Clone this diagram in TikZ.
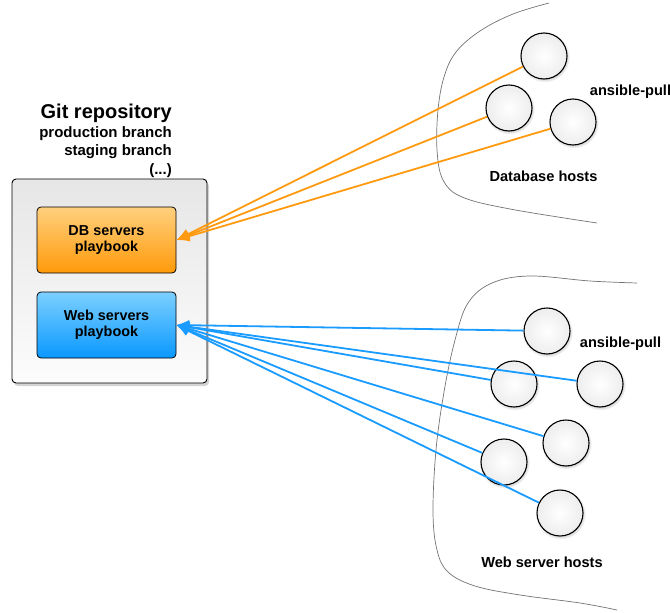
\documentclass[tikz,border=0pt]{standalone}
\usepackage{fontspec}
\setmainfont{Liberation Sans}
\usetikzlibrary{shadows,arrows.meta}
\definecolor{dbtop}{HTML}{FFD07E}
\definecolor{dbbot}{HTML}{FF9A0A}
\definecolor{webtop}{HTML}{7CD0FF}
\definecolor{webbot}{HTML}{0A98FF}
\definecolor{dbline}{HTML}{FF9A10}
\definecolor{webline}{HTML}{1A9BFF}
\definecolor{repotop}{HTML}{E6E6E6}
\definecolor{repobot}{HTML}{FCFCFC}
\begin{document}
\begin{tikzpicture}[x=1pt,y=-1pt,
  lbl/.style={font=\fontsize{14.6pt}{16pt}\selectfont\bfseries, inner sep=0pt},
  gitl/.style={font=\fontsize{15pt}{17pt}\selectfont\bfseries, inner sep=0pt, anchor=base east},
  repobox/.style={draw=black, line width=0.9pt, rounded corners=4pt, minimum width=195pt, minimum height=204pt,
     top color=repotop, bottom color=repobot, drop shadow={shadow xshift=2pt, shadow yshift=-3pt, opacity=0.35}},
  playbox/.style={draw=black, line width=0.8pt, rounded corners=4pt, minimum width=139pt, minimum height=66pt,
     align=center, font=\fontsize{14.4pt}{16.5pt}\selectfont\bfseries},
  host/.style={circle, draw=black, line width=1.1pt, minimum size=46pt, inner sep=0pt,
     inner color=white, outer color=gray!14,
     circular drop shadow={shadow xshift=0.5pt, shadow yshift=-1pt, shadow scale=1.1, opacity=0.35}},
  boundary/.style={draw=gray!90!black, line width=0.7pt},
  dbarrow/.style={draw=dbline, line width=1.8pt, -{Latex[length=13pt,width=11pt]}},
  webarrow/.style={draw=webline, line width=1.8pt, -{Latex[length=13pt,width=11pt]}}
]
\useasboundingbox (0,0) rectangle (670,613);

% host group outlines
\draw[boundary] plot[smooth, tension=0.6] coordinates {(549,3) (513,14) (480,31) (456,52) (444,77) (438,110) (437,150) (443,180) (462,197) (510,209) (597,223)};
\draw[boundary] plot[smooth, tension=0.6] coordinates {(637,283) (590,281) (530,276) (492,283) (468,303) (455,340) (444,392) (436,450) (433,512) (437,550) (448,572) (475,586) (520,595) (580,603) (617,610)};

% repository
\node[repobox] (repo) at (109.5,281) {};
\node[playbox, top color=dbtop, bottom color=dbbot] (db) at (106.5,240) {DB servers\\playbook};
\node[playbox, top color=webtop, bottom color=webbot] (web) at (106.5,325) {Web servers\\playbook};

\node[anchor=base east, inner sep=0pt, font=\fontsize{20pt}{22pt}\selectfont\bfseries] (gitt) at (172,118) {Git repository};
\node[gitl] (gitp) at (172,137.3) {production branch};
\node[gitl] (gits) at (172,155.8) {staging branch};
\node[gitl] (gitd) at (172,174) {(...)};

% database hosts
\node[host] (da) at (544,56) {};
\node[host] (dbb) at (509,108) {};
\node[host] (dc) at (573,122) {};
\node[lbl] (dpull) at (630.5,92) {ansible-pull};
\node[lbl] (dlabel) at (543.5,176) {Database hosts};

% web hosts
\node[host] (w1) at (547,331) {};
\node[host] (w2) at (514,384) {};
\node[host] (w3) at (600,384) {};
\node[host] (w4) at (566,443) {};
\node[host] (w5) at (504,462) {};
\node[host] (w6) at (560,513) {};
\node[lbl] (wpull) at (620.5,344) {ansible-pull};
\node[lbl] (wlabel) at (542,562) {Web server hosts};

% connectors
\draw[dbarrow] (da) -- (db.east);
\draw[dbarrow] (dbb) -- (db.east);
\draw[dbarrow] (dc) -- (db.east);

\draw[webarrow] (w1) -- (web.east);
\draw[webarrow] (w2) -- (web.east);
\draw[webarrow] (w3) -- (web.east);
\draw[webarrow] (w4) -- (web.east);
\draw[webarrow] (w5) -- (web.east);
\draw[webarrow] (w6) -- (web.east);
\end{tikzpicture}
\end{document}
